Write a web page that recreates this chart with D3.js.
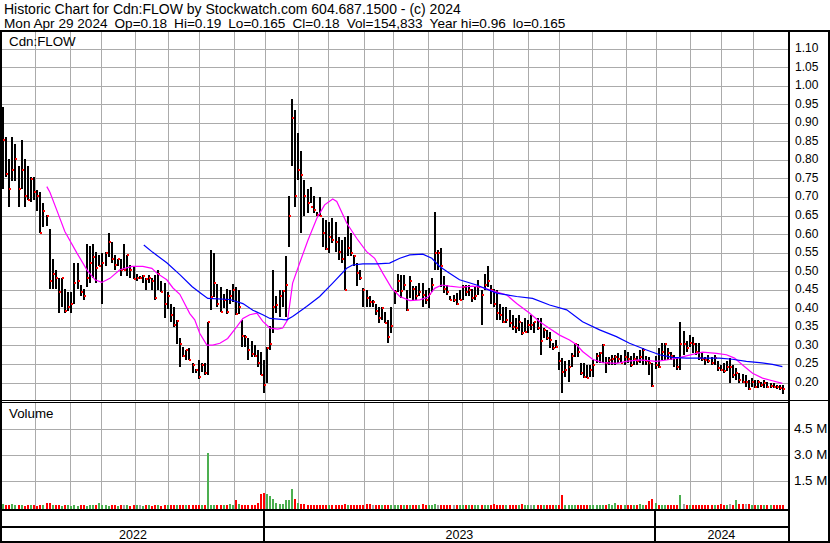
<!DOCTYPE html>
<html><head><meta charset="utf-8">
<script src="https://cdn.jsdelivr.net/npm/d3@7"></script>
<style>
body{margin:0;background:#fff}
svg{display:block;font-family:Arial,"Liberation Sans",sans-serif}
</style>
</head><body>
<svg id="chart" width="830" height="543"></svg>
<script>
// ---------- data ----------
const titleText = "Historic Chart for Cdn:FLOW by Stockwatch.com 604.687.1500 - (c) 2024";
const subtitleParts = ["Mon Apr 29 2024", "Op=0.18", "Hi=0.19", "Lo=0.165", "Cl=0.18", "Vol=154,833", "Year hi=0.96", "lo=0.165"];
const symbolLabel = "Cdn:FLOW";
const volumeLabel = "Volume";
const priceTicks = [1.10,1.05,1.00,0.95,0.90,0.85,0.80,0.75,0.70,0.65,0.60,0.55,0.50,0.45,0.40,0.35,0.30,0.25,0.20];
const volumeTicks = [1.5e6, 3.0e6, 4.5e6];
const volumeTickLabels = ["1.5 M", "3.0 M", "4.5 M"];
const firstDay = "2022-05-03", lastDay = "2024-04-29";
const holidays = ["2022-05-23","2022-07-01","2022-08-01","2022-09-05","2022-10-10","2022-12-26","2022-12-27",
  "2023-01-02","2023-02-20","2023-04-07","2023-05-22","2023-07-03","2023-08-07","2023-09-04","2023-10-09",
  "2023-12-25","2023-12-26","2024-01-01","2024-02-19","2024-03-29"];

// one bar per two trading days
const high = [
.94,.86,.80,.86,.84,.78,.85,.80,.78,.75,
.75,.715,.71,.68,.65,.61,.53,.50,.48,.48,
.45,.44,.44,.52,.52,.46,.45,.57,.565,.57,
.55,.54,.545,.55,.60,.577,.54,.53,.53,.57,
.54,.515,.51,.49,.485,.487,.48,.487,.48,.487,
.50,.47,.465,.44,.41,.40,.365,.316,.294,.286,
.289,.25,.235,.258,.25,.25,.36,.554,.545,.464,
.455,.437,.45,.446,.464,.455,.446,.365,.325,.316,
.31,.298,.285,.28,.258,.294,.35,.50,.43,.447,
.447,.537,.70,.96,.932,.87,.82,.743,.72,.725,
.70,.657,.698,.64,.635,.63,.64,.63,.59,.58,
.59,.645,.60,.54,.52,.50,.452,.447,.43,.42,
.41,.40,.40,.388,.366,.40,.447,.49,.487,.487,
.447,.483,.456,.456,.465,.465,.447,.452,.48,.657,
.555,.56,.483,.46,.43,.433,.438,.447,.46,.46,
.46,.45,.455,.473,.447,.49,.51,.46,.45,.447,
.41,.40,.40,.393,.38,.37,.38,.361,.37,.366,
.38,.36,.37,.37,.343,.339,.334,.303,.312,.28,
.263,.254,.258,.276,.30,.30,.25,.25,.245,.245,
.258,.276,.28,.30,.267,.267,.272,.272,.276,.272,
.285,.28,.27,.276,.27,.285,.29,.27,.267,.25,
.27,.29,.303,.303,.29,.28,.272,.263,.36,.335,
.308,.325,.32,.303,.303,.276,.267,.272,.267,.272,
.254,.245,.25,.254,.263,.245,.236,.222,.22,.218,
.204,.21,.204,.204,.20,.204,.20,.195,.195,.19,
.19,.19];
const low = [
.72,.75,.67,.74,.74,.67,.72,.67,.69,.685,
.69,.66,.60,.615,.62,.45,.45,.45,.385,.40,
.385,.39,.385,.41,.45,.43,.42,.455,.465,.48,
.465,.51,.41,.51,.536,.52,.50,.51,.485,.50,
.484,.48,.475,.47,.475,.465,.447,.465,.447,.42,
.447,.44,.37,.395,.36,.347,.30,.24,.267,.258,
.258,.222,.222,.208,.226,.218,.218,.392,.428,.40,
.388,.397,.383,.41,.415,.379,.383,.294,.294,.258,
.267,.267,.24,.218,.17,.196,.285,.33,.385,.375,
.40,.375,.563,.78,.67,.743,.60,.645,.655,.68,
.655,.645,.645,.563,.555,.546,.573,.55,.528,.52,
.447,.537,.537,.51,.456,.474,.40,.40,.40,.40,
.38,.357,.366,.357,.303,.33,.41,.44,.425,.447,
.39,.425,.42,.42,.43,.40,.41,.398,.44,.50,
.50,.455,.438,.433,.42,.415,.406,.42,.42,.43,
.43,.415,.42,.433,.352,.447,.455,.41,.40,.366,
.366,.357,.357,.348,.339,.33,.335,.325,.334,.33,
.339,.33,.339,.272,.316,.312,.29,.285,.29,.23,
.168,.213,.20,.24,.267,.267,.218,.21,.21,.213,
.213,.25,.25,.25,.222,.245,.245,.245,.25,.25,
.245,.25,.24,.245,.245,.25,.245,.245,.218,.186,
.235,.236,.258,.258,.258,.258,.24,.23,.23,.272,
.28,.294,.276,.272,.258,.254,.245,.25,.245,.245,
.227,.227,.222,.227,.195,.21,.204,.195,.195,.186,
.177,.186,.182,.182,.186,.182,.182,.182,.182,.18,
.177,.165];
const close = [
.85,.76,.72,.77,.80,.72,.77,.70,.69,.745,
.71,.70,.60,.66,.645,.47,.49,.48,.44,.48,
.39,.40,.41,.465,.47,.44,.43,.48,.52,.535,
.505,.51,.52,.547,.577,.53,.515,.53,.50,.50,
.54,.50,.476,.48,.48,.483,.476,.48,.47,.425,
.49,.44,.41,.43,.38,.352,.364,.30,.268,.285,
.258,.244,.23,.213,.245,.222,.36,.428,.465,.41,
.388,.42,.388,.43,.446,.383,.40,.322,.32,.285,
.275,.27,.25,.218,.19,.29,.30,.40,.405,.43,
.443,.46,.645,.91,.70,.77,.757,.70,.68,.67,
.662,.649,.645,.60,.558,.59,.58,.577,.55,.53,
.447,.56,.546,.537,.492,.478,.447,.425,.415,.415,
.39,.37,.397,.357,.32,.35,.44,.47,.443,.46,
.393,.47,.45,.43,.44,.434,.42,.437,.46,.546,
.546,.51,.45,.44,.42,.42,.41,.42,.455,.44,
.447,.424,.43,.455,.433,.46,.47,.447,.41,.384,
.38,.36,.366,.357,.348,.345,.36,.33,.334,.352,
.352,.36,.343,.31,.339,.316,.312,.29,.294,.254,
.226,.23,.24,.27,.30,.28,.222,.213,.21,.23,
.245,.27,.276,.298,.249,.258,.26,.267,.26,.25,
.267,.26,.245,.26,.255,.265,.285,.255,.25,.188,
.245,.24,.28,.30,.276,.27,.263,.24,.30,.30,
.29,.303,.30,.28,.263,.26,.258,.254,.25,.263,
.236,.231,.227,.24,.24,.218,.222,.204,.20,.20,
.18,.20,.186,.20,.19,.195,.186,.188,.186,.185,
.182,.18];
// volume in thousands of shares
const volumeK = [
130,60,80,150,60,50,70,40,60,50,
60,40,70,80,200,170,60,50,70,40,
60,50,40,60,30,50,60,40,70,50,
60,180,80,50,40,60,50,40,60,50,
60,40,50,70,50,40,60,50,40,60,
50,40,60,50,60,80,50,70,60,90,
50,100,60,70,50,80,3050,90,100,60,
50,80,60,150,100,380,120,100,60,90,
80,70,180,720,740,700,570,400,200,110,
120,340,350,1000,400,200,150,120,100,80,
70,90,60,80,50,60,70,50,60,80,
120,60,50,70,60,80,60,140,140,60,
50,80,60,50,70,60,50,60,80,50,
60,50,70,60,50,110,60,50,60,130,
60,50,70,50,60,80,50,60,50,70,
60,50,80,60,50,70,60,50,110,60,
50,60,70,50,60,80,60,150,60,50,
70,100,60,50,60,70,50,60,70,90,
680,80,60,50,70,60,50,60,80,50,
60,70,50,60,80,130,60,200,60,50,
70,60,50,60,80,120,60,50,300,450,
170,80,60,50,70,60,50,60,680,120,
60,50,70,60,50,60,70,80,60,50,
70,120,60,80,110,90,350,150,140,120,
120,60,50,70,60,50,60,70,60,80,
90,80];
// moving averages (position in bar units, value)
const fastMaAt = [14.1,15.1,17.7,19.9,23.8,27,29.6,31.8,34.4,37.6,41.5,45,47.9,49.5,52.7,54.7,56.9,60.1,61.7,63.3,65.6,67.5,69.8,72.3,75.2,77.2,79.4,81.7,83.6,85.9,88.4,90,91.6,93.2,95.5,98.1,101,103.5,106.1,107.4,110.6,113.8,117,119.6,122.2,125.1,127.7,130.9,134.1,136.7,138.9,141.2,143.7,146.9,151.1,154,156.6,162.1,165.3,169.5,172.7,175.9,179.1,182.3,184.6,186.5,189.7,192.9,197.4,200.6,204.8,210.3,213.5,217,219.9,223.2,225.1,229.6,232.8,235.4,237.9,241.2,244.4,247.6,250.8];
const fastMa = [.725,.71,.653,.604,.546,.501,.474,.467,.478,.501,.51,.51,.505,.492,.474,.452,.435,.383,.366,.33,.298,.298,.303,.316,.347,.37,.38,.384,.362,.344,.341,.344,.366,.465,.52,.58,.64,.676,.692,.685,.627,.586,.55,.532,.492,.451,.429,.418,.42,.427,.451,.46,.457,.454,.457,.454,.447,.433,.41,.384,.361,.343,.325,.312,.299,.281,.26,.251,.249,.254,.258,.254,.258,.263,.269,.276,.279,.276,.272,.263,.245,.222,.209,.202,.195];
const slowMaAt = [45.3,48.2,52.7,56.9,60.8,63.3,65.9,73,77.2,80.4,83.6,85.9,91.3,93.2,97.7,101.9,106.1,110.6,112.5,115.8,120.3,124.4,127.7,130.9,135.1,138,140.5,143.7,146.9,152.4,158.8,165.3,170.4,175.9,181.4,186.5,192,197.4,201.6,207.1,211.3,215.4,219.9,225.1,230.5,234.7,239.2,243.4,247.6,250.8];
const slowMa = [.568,.548,.52,.488,.456,.44,.424,.421,.41,.392,.38,.37,.366,.375,.402,.429,.465,.505,.514,.517,.517,.519,.532,.541,.543,.532,.51,.492,.474,.46,.438,.429,.424,.406,.393,.361,.339,.321,.303,.285,.272,.265,.263,.263,.263,.26,.254,.251,.246,.24];

// ---------- trading days ----------
const fmt = d3.timeFormat("%Y-%m-%d"), parse = d3.timeParse("%Y-%m-%d");
const holidaySet = new Set(holidays);
const days = d3.timeDay.range(parse(firstDay), d3.timeDay.offset(parse(lastDay), 1))
  .filter(d => d.getDay() > 0 && d.getDay() < 6 && !holidaySet.has(fmt(d)));

// ---------- scales ----------
const svg = d3.select("#chart");
const plotL = 2, plotR = 788;
const xBar = d3.scaleLinear([0, high.length - 1], [3, 783]);
const xDay = d3.scaleLinear([0, days.length - 1], [3, 783]);
const yP = d3.scaleLinear([0.20, 1.10], [381.5, 47.5]);
const yV = d3.scaleLinear([0, 6e6], [506.3, 402.3]);

svg.append("rect").attr("width", 830).attr("height", 543).attr("fill", "#ffffff");

const monthIdx = [], yearIdx = [];
days.forEach((d, i) => {
  if (i > 0 && d.getMonth() !== days[i - 1].getMonth()) monthIdx.push(i);
  if (i > 0 && d.getFullYear() !== days[i - 1].getFullYear()) yearIdx.push(i);
});

// grid built with d3 axes (ticks stretched across the panels)
const gridColor = "#ababab";
function styleGrid(g) {
  g.select(".domain").remove();
  g.selectAll(".tick text").remove();
  g.selectAll(".tick line").attr("stroke", gridColor).attr("stroke-width", 1).attr("shape-rendering", "crispEdges");
}
const yPgrid = d3.scaleLinear(yP.domain(), yP.range().map(v => Math.round(v) + 0.5));
svg.append("g").attr("transform", `translate(${plotL},0)`)
  .call(d3.axisRight(yPgrid).tickValues(priceTicks).tickSize(plotR - plotL)).call(styleGrid);
const yVgrid = d3.scaleLinear(yV.domain(), yV.range().map(v => Math.round(v) + 0.5));
svg.append("g").attr("transform", `translate(${plotL},0)`)
  .call(d3.axisRight(yVgrid).tickValues(volumeTicks).tickSize(plotR - plotL)).call(styleGrid);
svg.append("g").attr("transform", "translate(0.5,32)")
  .call(d3.axisBottom(d3.scaleIdentity()).tickValues(monthIdx.map(i => Math.round(xDay(i)))).tickSize(368)).call(styleGrid);
svg.append("g").attr("transform", "translate(0.5,403)")
  .call(d3.axisBottom(d3.scaleIdentity()).tickValues(monthIdx.map(i => Math.round(xDay(i)))).tickSize(106)).call(styleGrid);

// ---------- price bars ----------
const pg = svg.append("g");
high.forEach((h, i) => {
  const x = Math.round(xBar(i));
  const yh = Math.round(yP(h)), yl = Math.round(yP(low[i]));
  pg.append("rect").attr("x", x - 1).attr("y", yh).attr("width", 2).attr("height", Math.max(1, yl - yh)).attr("fill", "#000");
});
high.forEach((h, i) => {
  const x = Math.round(xBar(i));
  pg.append("rect").attr("x", x).attr("y", Math.round(yP(close[i])) - 1).attr("width", 2).attr("height", 2).attr("fill", "#ff0000");
});

const maLine = d3.line().x(d => xBar(d[0])).y(d => yP(d[1]));
pg.append("path").attr("d", maLine(fastMaAt.map((a, i) => [a, fastMa[i]])))
  .attr("fill", "none").attr("stroke", "#ff00ff").attr("stroke-width", 1.2);
pg.append("path").attr("d", maLine(slowMaAt.map((a, i) => [a, slowMa[i]])))
  .attr("fill", "none").attr("stroke", "#0000ff").attr("stroke-width", 1.2);

// ---------- volume ----------
const vg = svg.append("g");
volumeK.forEach((v, i) => {
  const x = Math.round(xBar(i));
  const top = Math.round(yV(v * 1000));
  const dir = i === 0 ? 1 : Math.sign(close[i] - close[i - 1]);
  const col = dir > 0 ? "#4caf50" : dir < 0 ? "#ff0000" : "#a0a0a0";
  vg.append("rect").attr("x", x - 1).attr("y", top).attr("width", 2).attr("height", Math.max(2, 509 - top)).attr("fill", col);
});

// ---------- frame ----------
const fr = svg.append("g").attr("fill", "#000");
fr.append("rect").attr("x", 0).attr("y", 30).attr("width", 830).attr("height", 2);
fr.append("rect").attr("x", 0).attr("y", 30).attr("width", 2).attr("height", 513);
fr.append("rect").attr("x", 828).attr("y", 30).attr("width", 2).attr("height", 513);
fr.append("rect").attr("x", plotR).attr("y", 30).attr("width", 2).attr("height", 513);
fr.append("rect").attr("x", 0).attr("y", 400).attr("width", 830).attr("height", 1);
fr.append("rect").attr("x", 0).attr("y", 402).attr("width", 790).attr("height", 1);
fr.append("rect").attr("x", 0).attr("y", 509).attr("width", 790).attr("height", 2);
fr.append("rect").attr("x", 0).attr("y", 526).attr("width", 790).attr("height", 2);
fr.append("rect").attr("x", 0).attr("y", 541).attr("width", 830).attr("height", 2);
yearIdx.forEach(i => fr.append("rect").attr("x", Math.round(xDay(i)) - 1).attr("y", 509).attr("width", 2).attr("height", 33));

// ---------- text ----------
const t = svg.append("g").attr("fill", "#000");
t.append("text").attr("x", 4).attr("y", 13.5).attr("font-size", "14px").text(titleText);
const sub = t.append("text").attr("x", 4).attr("y", 27.5).attr("font-size", "13.6px");
subtitleParts.forEach((s, k) => sub.append("tspan").attr("dx", k === 0 ? 0 : 7).text(s));
t.append("text").attr("x", 9).attr("y", 46).attr("font-size", "13.33px").text(symbolLabel);
t.append("text").attr("x", 9).attr("y", 418).attr("font-size", "13.33px").text(volumeLabel);
priceTicks.forEach(p => t.append("text").attr("x", 795).attr("y", yP(p) + 4.5).attr("font-size", "12px").text(d3.format(".2f")(p)));
volumeTicks.forEach((v, k) => t.append("text").attr("x", 794).attr("y", yV(v) + 4.5).attr("font-size", "13.33px").text(volumeTickLabels[k]));
const yearBoundsPx = [plotL, ...yearIdx.map(i => xDay(i)), plotR];
yearBoundsPx.slice(0, -1).forEach((x0, k) => {
  const yr = (k === 0 ? days[0] : days[yearIdx[k - 1]]).getFullYear();
  t.append("text").attr("x", (x0 + yearBoundsPx[k + 1]) / 2).attr("y", 539).attr("text-anchor", "middle").attr("font-size", "12.5px").text(yr);
});
</script>
</body></html>
